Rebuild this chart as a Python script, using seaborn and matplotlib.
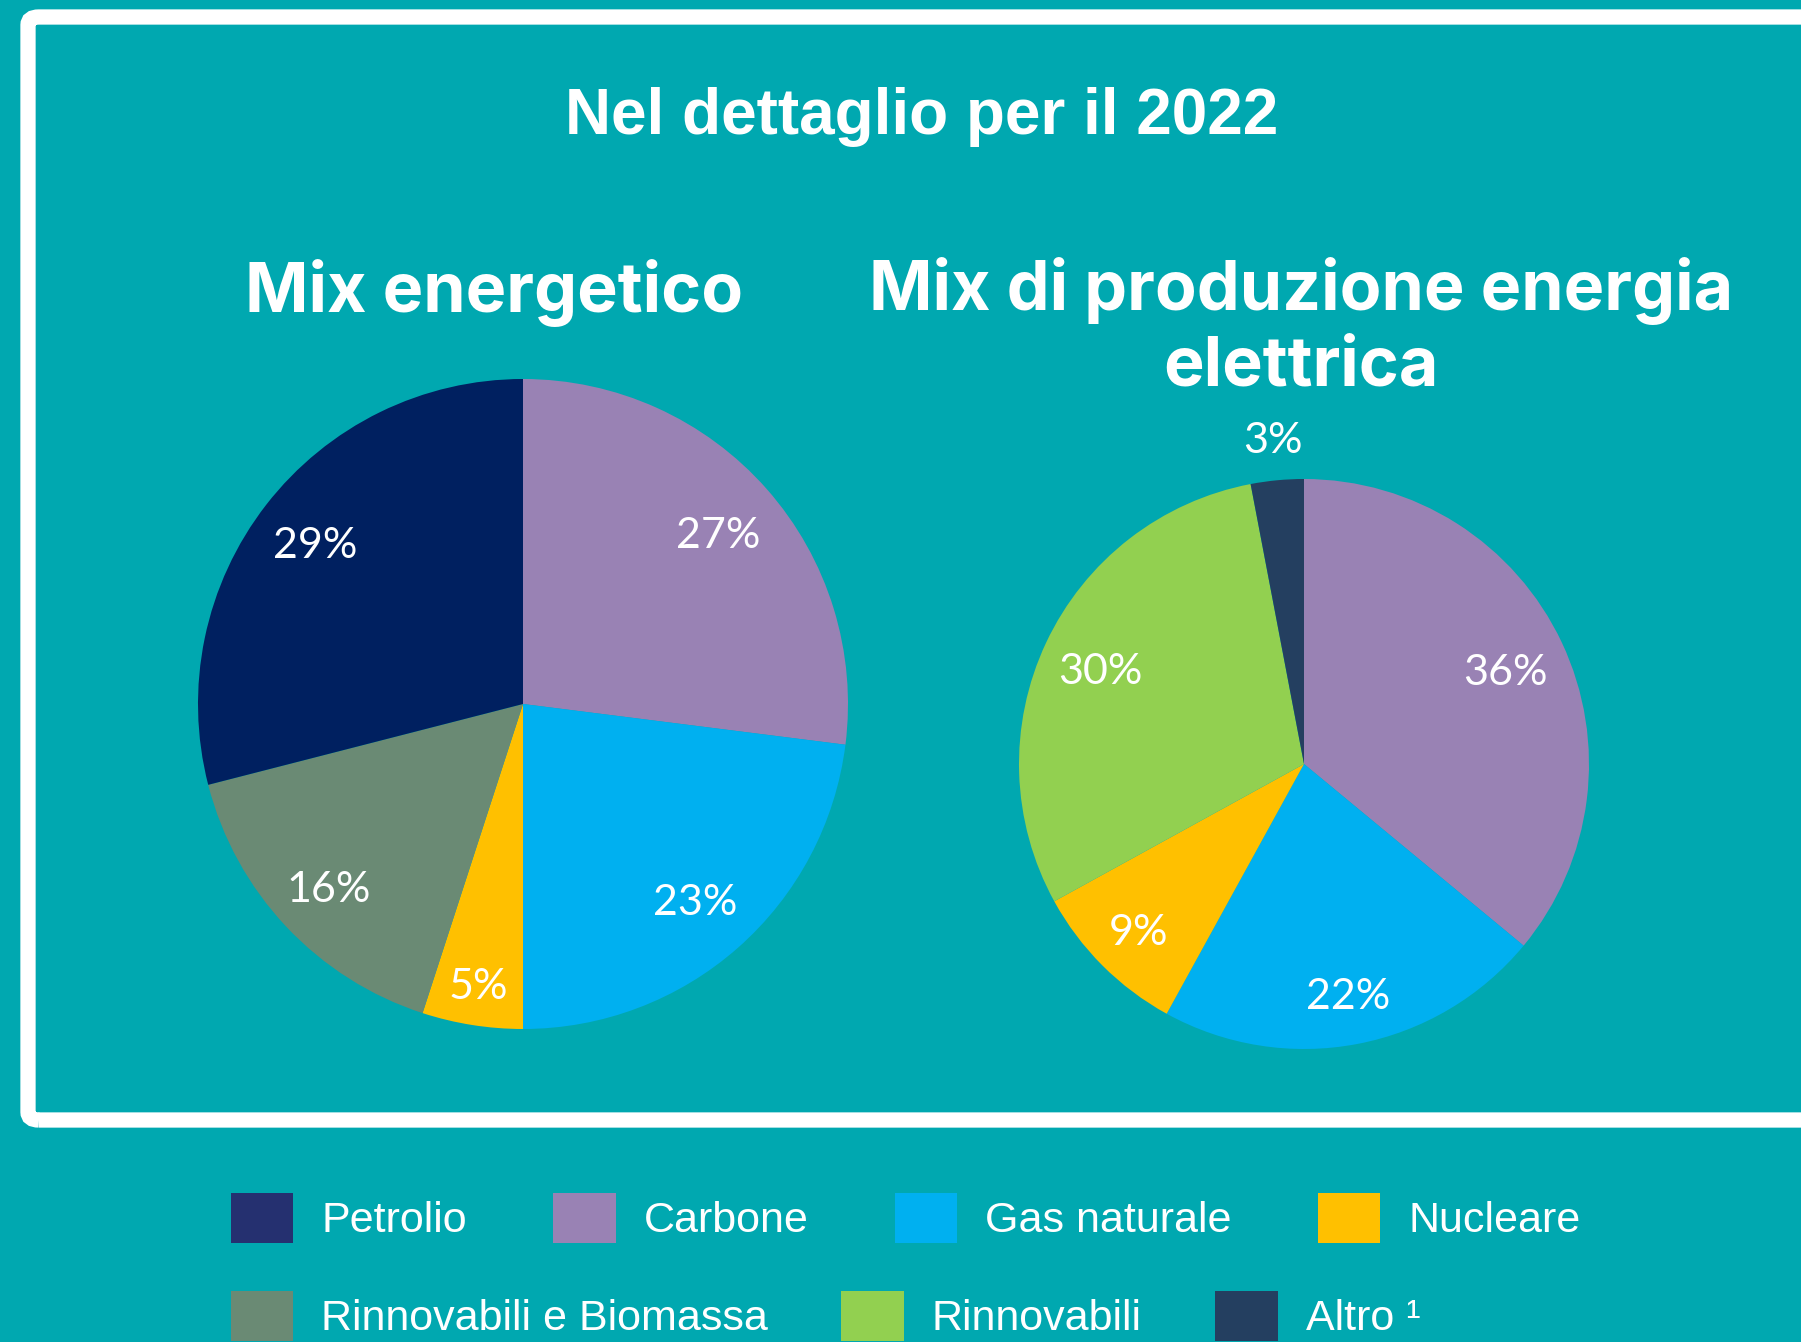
import numpy as np
import matplotlib
matplotlib.use("Agg")
import matplotlib.pyplot as plt
import seaborn as sns
from matplotlib.patches import FancyBboxPatch, Patch

# -----------------------------------------------
# DATA
# -----------------------------------------------
energy_labels = ['Carbone', 'Gas naturale', 'Nucleare', 'Rinnovabili e Biomassa', 'Petrolio']
energy_values = [27, 23, 5, 16, 29]

power_labels = ['Carbone', 'Gas naturale', 'Nucleare', 'Rinnovabili', 'Altro']
power_values = [36, 22, 9, 30, 3]

legend_row1 = ['Petrolio', 'Carbone', 'Gas naturale', 'Nucleare']
legend_row2 = ['Rinnovabili e Biomassa', 'Rinnovabili', 'Altro']

title = 'Nel dettaglio per il 2022'
sub_left = 'Mix energetico'
sub_right = 'Mix di produzione energia\nelettrica'

# colours
pie_colors = {
    'Petrolio': '#002060',
    'Carbone': '#9982B4',
    'Gas naturale': '#00B0F0',
    'Nucleare': '#FFC000',
    'Rinnovabili e Biomassa': '#6A8A74',
    'Rinnovabili': '#92D050',
    'Altro': '#243F60',
}
legend_colors = dict(pie_colors, Petrolio='#253070')
BG = '#00A8B0'

# -----------------------------------------------
# STYLE
# -----------------------------------------------
sns.set_theme(style='white')
plt.rcParams['font.family'] = ['Lato', 'DejaVu Sans']

W, H = 1801, 1342
fig = plt.figure(figsize=(W / 100, H / 100), dpi=100, facecolor=BG)


def fx(px):
    return px / W


def fy(py):
    return 1 - py / H


# white frame (runs off the right edge)
frame = FancyBboxPatch((fx(28), fy(1120)), fx(1900) - fx(28), fy(17) - fy(1120),
                       boxstyle='round,pad=0,rounding_size=0.006',
                       transform=fig.transFigure, facecolor='none',
                       edgecolor='white', linewidth=11, zorder=0)
fig.patches.append(frame)

# titles
fig.text(fx(922), fy(134), title, ha='center', va='baseline', color='white',
         fontsize=46, fontweight='bold', family='Liberation Sans')
fig.text(fx(494), fy(312), sub_left, ha='center', va='baseline', color='white',
         fontsize=49, fontweight='bold', family='Inter')
fig.text(fx(1301), fy(386), sub_right, ha='center', va='baseline', color='white',
         fontsize=49, fontweight='bold', family='Inter', linespacing=1.22,
         multialignment='center')


# -----------------------------------------------
# PIES
# -----------------------------------------------
def draw_pie(cx, cy, r, labels, values, dist):
    ax = fig.add_axes([fx(cx - r), fy(cy + r), fx(2 * r), fy(cy - r) - fy(cy + r)])
    ax.set_facecolor('none')
    wedges, texts, autotexts = ax.pie(
        values, colors=[pie_colors[l] for l in labels], startangle=90,
        counterclock=False, autopct=lambda p: f'{p:.0f}%',
        textprops=dict(color='white', fontsize=31),
        wedgeprops=dict(linewidth=0))
    for w, t, d in zip(wedges, autotexts, dist):
        a = np.deg2rad((w.theta1 + w.theta2) / 2)
        t.set_position((d * np.cos(a), d * np.sin(a)))
        t.set_va('center_baseline')
        t.set_ha('center')
    ax.set_xlim(-1, 1)
    ax.set_ylim(-1, 1)
    ax.set_aspect('equal')
    ax.axis('off')
    return ax


draw_pie(523, 704, 325, energy_labels, energy_values, [0.80, 0.80, 0.87, 0.82, 0.81])
draw_pie(1304, 764, 285, power_labels, power_values, [0.78, 0.82, 0.82, 0.79, 1.15])

# -----------------------------------------------
# LEGEND
# -----------------------------------------------
leg_kw = dict(frameon=False, handlelength=1.45, handleheight=1.4,
              handletextpad=0.65, labelcolor='white',
              prop=dict(family='Liberation Sans', size=31),
              borderaxespad=0, borderpad=0)

h1 = [Patch(facecolor=legend_colors[l], edgecolor='none', label=l) for l in legend_row1]
lab2 = [l if l != 'Altro' else 'Altro \u00b9' for l in legend_row2]
h2 = [Patch(facecolor=legend_colors[l], edgecolor='none', label=t)
      for l, t in zip(legend_row2, lab2)]

fig.legend(handles=h1, ncol=4, loc='center left', columnspacing=2.0,
           bbox_to_anchor=(fx(231), fy(1218)), **leg_kw)
fig.legend(handles=h2, ncol=3, loc='center left', columnspacing=1.7,
           bbox_to_anchor=(fx(231), fy(1316)), **leg_kw)

plt.savefig('out.png', dpi=100, facecolor=BG)
